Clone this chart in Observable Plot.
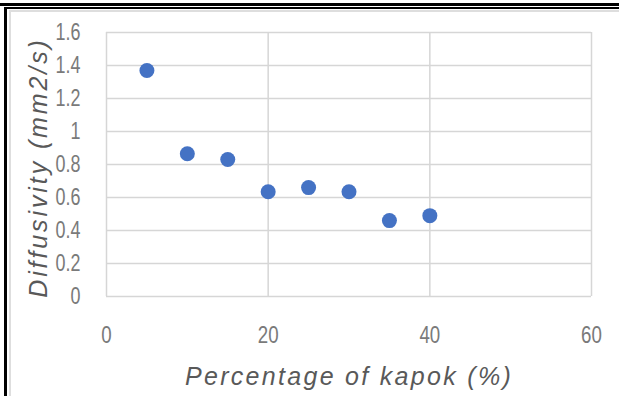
<!DOCTYPE html>
<html>
<head>
<meta charset="utf-8">
<script src="https://cdn.jsdelivr.net/npm/d3@7"></script>
<script src="https://cdn.jsdelivr.net/npm/@observablehq/plot@0.6"></script>
<style>
  html, body { margin: 0; padding: 0; background: #fff; }
  #wrap { position: relative; width: 619px; height: 396px; overflow: hidden; background: #fff; }
  #chart { position: absolute; left: 0; top: 0; }
  .rule { position: absolute; }
  .x-title text { letter-spacing: 2.3px; }
  .y-title text { letter-spacing: 2.9px; }
</style>
</head>
<body>
<div id="wrap">
  <div id="chart"></div>
  <!-- page frame around the figure -->
  <div class="rule" style="left:0;top:3px;width:619px;height:3px;background:#000"></div>
  <div class="rule" style="left:4px;top:7px;width:615px;height:2px;background:#000"></div>
  <div class="rule" style="left:4px;top:7px;width:3px;height:389px;background:#000"></div>
  <!-- chart area border -->
  <div class="rule" style="left:9px;top:10px;width:610px;height:2px;background:#dedede"></div>
  <div class="rule" style="left:9px;top:10px;width:2px;height:386px;background:#dedede"></div>
</div>
<script>
// Kapok content (%) and measured thermal diffusivity (mm2/s)
const kapok = [5, 10, 15, 20, 25, 30, 35, 40];
const diffusivity = [1.37, 0.865, 0.83, 0.635, 0.66, 0.635, 0.46, 0.49];

const xTicks = [0, 20, 40, 60];
const yTicks = [0, 0.2, 0.4, 0.6, 0.8, 1, 1.2, 1.4, 1.6];

const xTitle = "Percentage of kapok (%)";
const yTitle = "Diffusivity (mm2/s)";

const points = kapok.map((k, i) => ({kapok: k, diffusivity: diffusivity[i]}));

const tickFont = "'Liberation Sans', Arial, sans-serif";
const titleFont = "'Liberation Sans', Arial, sans-serif";

const chart = Plot.plot({
  width: 619,
  height: 396,
  marginLeft: 106,
  marginRight: 28,
  marginTop: 32,
  marginBottom: 100,
  style: {background: "transparent", overflow: "visible"},
  x: {domain: [0, 60], ticks: xTicks},
  y: {domain: [0, 1.6], ticks: yTicks},
  marks: [
    Plot.gridX(xTicks, {stroke: "#d6d6d6", strokeOpacity: 1, strokeWidth: 1.5}),
    Plot.gridY(yTicks, {stroke: "#d6d6d6", strokeOpacity: 1, strokeWidth: 1.5}),
    Plot.axisX(xTicks, {
      tickSize: 0, tickPadding: 29, label: null, tickFormat: d => String(d),
      fontSize: 24, fontFamily: tickFont, fill: "#7a7a7a", className: "ticks"
    }),
    Plot.axisY(yTicks, {
      tickSize: 0, tickPadding: 26, label: null, tickFormat: d => String(d),
      fontSize: 23, fontFamily: tickFont, fill: "#7a7a7a", className: "ticks"
    }),
    Plot.dot(points, {
      x: "kapok", y: "diffusivity", r: 7.5,
      fill: "#4472c4", stroke: "none"
    }),
    Plot.text([xTitle], {
      frameAnchor: "bottom", dy: 88, text: d => d, textAnchor: "middle",
      fontSize: 25, fontStyle: "italic", fontFamily: titleFont, fill: "#595959",
      className: "x-title"
    }),
    Plot.text([yTitle], {
      frameAnchor: "left", dx: -68, dy: 3, rotate: -90, text: d => d, textAnchor: "middle",
      fontSize: 25, fontStyle: "italic", fontFamily: titleFont, fill: "#595959",
      className: "y-title"
    })
  ]
});

document.getElementById("chart").appendChild(chart);

// condensed tick lettering: squeeze each label horizontally about its anchor
chart.querySelectorAll(".ticks text").forEach(t => {
  const tr = t.getAttribute("transform") || "";
  t.setAttribute("transform", tr + " scale(0.78,1)");
});
</script>
</body>
</html>
